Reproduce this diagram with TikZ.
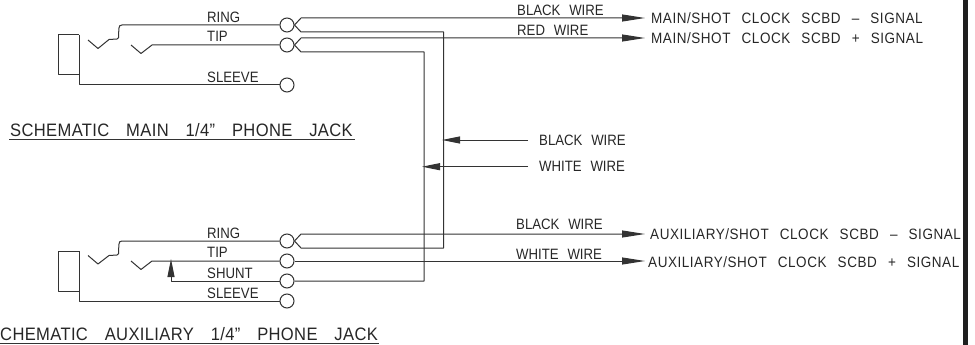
\documentclass[tikz,border=0pt]{standalone}
\usepackage{fontspec}
\setmainfont[FakeStretch=0.88,WordSpace=2.4]{Liberation Sans}
\newfontfamily\longfont[FakeStretch=0.90,WordSpace=2.6,LetterSpace=3.6]{Liberation Sans}
\newfontfamily\titlefont[FakeStretch=0.92,WordSpace=3.4,LetterSpace=2]{Liberation Sans}
\usetikzlibrary{arrows.meta}
\definecolor{wirec}{gray}{0.2}
\tikzset{
  x=1pt,y=-1pt,
  wire/.style={draw=wirec,line width=1pt,line join=round},
  terminal/.style={circle,draw=wirec,line width=1pt,minimum size=14pt,inner sep=0pt,fill=white},
  lab/.style={anchor=base west,inner sep=0pt,text=black!85,font=\fontsize{15}{15}\selectfont},
  longlab/.style={lab,font=\longfont\fontsize{15}{15}\selectfont},
  titlelab/.style={lab,font=\titlefont\fontsize{18}{18}\selectfont},
  head/.style={-{Triangle[length=23pt,width=7pt]}},
  headshort/.style={-{Triangle[length=18pt,width=7pt]}},
}
\begin{document}
\begin{tikzpicture}
\useasboundingbox (0,0) rectangle (975,345);
\fill[black!88] (963,0) rectangle (968,345);
% terminals
\node[terminal] (mr) at (287,25) {};
\node[terminal] (mt) at (287,45) {};
\node[terminal] (ms) at (287,85) {};
\node[terminal] (ar) at (287,241) {};
\node[terminal] (at) at (287,261) {};
\node[terminal] (ash) at (287,281) {};
\node[terminal] (asl) at (287,301) {};
% free end points
\coordinate (eb1) at (645,18);
\coordinate (er1) at (645,38);
\coordinate (eb2) at (645,234);
\coordinate (ew2) at (645,261);
% main jack
\draw[wire] (79,35) -- (58.5,35) -- (58.5,75) -- (79,75);
\draw[wire] (79,35) -- (79,85) -- (ms.west);
\draw[wire] (88,40) -- (98,48.5) -- (109,39.5) -- (117,39) .. controls (119,39) and (118.5,37) .. (118.5,35) -- (119,28) .. controls (119,26) and (120,25) .. (122,25) -- (mr.west);
\draw[wire] (131,45) -- (141,53.5) -- (152,45) -- (mt.west);
% aux jack
\draw[wire] (79,251) -- (58.5,251) -- (58.5,291) -- (79,291);
\draw[wire] (79,251) -- (79,301) -- (asl.west);
\draw[wire] (88,255.5) -- (98,264) -- (109,255.5) -- (117,255) .. controls (119,255) and (118.5,253) .. (118.5,251) -- (119,244) .. controls (119,242) and (120,241) .. (122,241) -- (ar.west);
\draw[wire] (131,261) -- (141,269.5) -- (152,261) -- (at.west);
\draw[wire,headshort] (ash.west) -- (171,281) -- (171,259);
% wires to the right
\draw[wire,head] (mr.east) -- (301,18) -- (eb1);
\draw[wire] (mr.east) -- (301,32) -- (443.5,32) -- (443.5,248) -- (301,248) -- (ar.east);
\draw[wire,head] (mt.east) -- (301,38) -- (er1);
\draw[wire] (mt.east) -- (301,52) -- (424,52) -- (424,281) -- (ash.east);
\draw[wire,head] (ar.east) -- (301,234) -- (eb2);
\draw[wire,head] (at.east) -- (ew2);
% middle callouts
\coordinate (cb) at (442,140);
\coordinate (cw) at (422,166.7);
\draw[wire,headshort] (528,140) -- (cb);
\draw[wire,headshort] (528,166.7) -- (cw);
% labels
\node[lab] at (207,22.5) {RING};
\node[lab] at (207,42) {TIP};
\node[lab] at (207,82.5) {SLEEVE};
\node[lab] at (207,238) {RING};
\node[lab] at (207,257.5) {TIP};
\node[lab] at (207,278) {SHUNT};
\node[lab] at (207,298.5) {SLEEVE};
\node[lab] at (517,15.5) {BLACK WIRE};
\node[lab] at (517,35.5) {RED WIRE};
\node[lab] at (516,229.5) {BLACK WIRE};
\node[lab] at (516,259) {WHITE WIRE};
\node[lab] at (539,145) {BLACK WIRE};
\node[lab] at (539,171.7) {WHITE WIRE};
\node[longlab] at (651,24) {MAIN/SHOT CLOCK SCBD – SIGNAL};
\node[longlab] at (651,44) {MAIN/SHOT CLOCK SCBD + SIGNAL};
\node[longlab] at (650,239.5) {AUXILIARY/SHOT CLOCK SCBD – SIGNAL};
\node[longlab] at (648,267) {AUXILIARY/SHOT CLOCK SCBD + SIGNAL};
\node[titlelab] (t1) at (10,136.5) {SCHEMATIC MAIN 1/4” PHONE JACK};
\node[titlelab] (t2) at (0,340.5) {CHEMATIC AUXILIARY 1/4” PHONE JACK};
\draw[wire] (t1.base west)++(-1,2.5) -- ++(346,0);
\draw[wire] (t2.base west)++(0,2.5) -- ++(379,0);
\end{tikzpicture}
\end{document}
